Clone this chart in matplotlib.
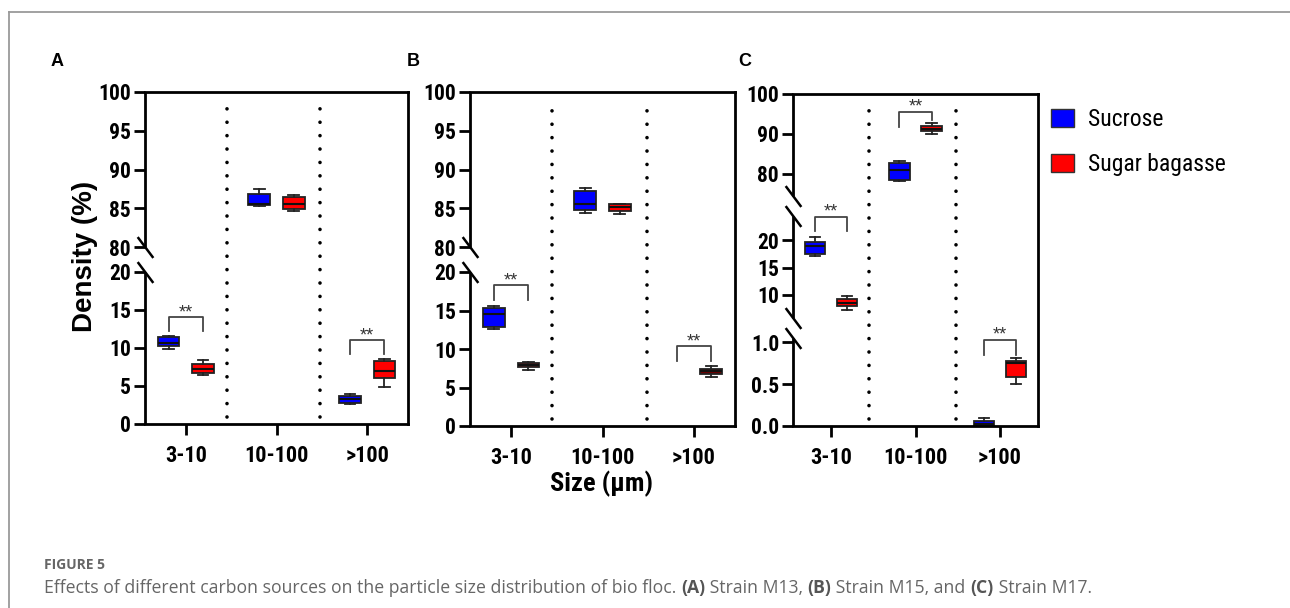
import numpy as np
import matplotlib
matplotlib.use("Agg")
import matplotlib.pyplot as plt
from matplotlib.patches import Patch
from matplotlib.lines import Line2D
from matplotlib import transforms

# ---------------- data ----------------
categories = ["3-10", "10-100", ">100"]
series = ["Sucrose", "Sugar bagasse"]
# box stats per category: (whisker low, q1, median, q3, whisker high)
A_sucrose = [(9.9, 10.3, 10.7, 11.4, 11.6), (85.35, 85.4, 85.5, 86.9, 87.5), (2.6, 2.8, 3.3, 3.65, 4.0)]
A_bagasse = [(6.4, 6.7, 7.2, 7.9, 8.4), (84.65, 84.9, 85.6, 86.4, 86.7), (4.9, 6.0, 6.95, 8.35, 8.5)]
B_sucrose = [(12.55, 12.9, 14.55, 15.35, 15.6), (84.45, 84.8, 85.55, 87.25, 87.65), None]
B_bagasse = [(7.25, 7.6, 7.9, 8.2, 8.25), (84.3, 84.7, 85.15, 85.55, 85.6), (6.4, 6.8, 7.15, 7.45, 7.75)]
C_sucrose = [(17.2, 17.55, 18.9, 19.8, 20.6), (78.15, 78.6, 81.1, 82.75, 83.25), (0.0, 0.0, 0.02, 0.055, 0.1)]
C_bagasse = [(7.25, 7.85, 8.5, 9.25, 9.8), (90.0, 90.65, 91.25, 91.9, 92.75), (0.505, 0.59, 0.75, 0.78, 0.81)]
# significance brackets: (category index, top, left leg end, right leg end)
A_brackets = [(0, 14.1, 12.3, 12.2), (2, 11.0, 9.2, 9.2)]
B_brackets = [(0, 18.3, 16.3, 16.3), (2, 10.4, 8.5, 8.5)]
C_brackets = [(0, 24.4, 21.7, 21.7), (1, 95.6, 91.75, 93.5), (2, 1.03, 0.85, 0.85)]
AB_ticks = [0, 5, 10, 15, 20, 80, 85, 90, 95, 100]
AB_ticklabels = ["0", "5", "10", "15", "20", "80", "85", "90", "95", "100"]
C_ticks = [0, 0.5, 1.0, 10, 15, 20, 80, 90, 100]
C_ticklabels = ["0.0", "0.5", "1.0", "10", "15", "20", "80", "90", "100"]
AB_segments = [(0, 20), (80, 100)]
C_segments = [(0, 1.05), (5.7, 24.5), (74.5, 100)]
caption_parts = [("Effects of different carbon sources on the particle size distribution of bio floc. ", "normal"),
                 ("(A)", "bold"), (" Strain M13, ", "normal"), ("(B)", "bold"), (" Strain M15, and ", "normal"),
                 ("(C)", "bold"), (" Strain M17.", "normal")]

# ---------------- style ----------------
W, H = 1290, 608
NARROW = ['Roboto Condensed', 'Liberation Sans', 'DejaVu Sans']
ARIAL = ['Liberation Sans', 'DejaVu Sans']
plt.rcParams['font.family'] = NARROW
plt.rcParams['font.weight'] = 'bold'
colors = ['#0000ff', '#ff0000']
fig = plt.figure(figsize=(W / 100, H / 100), dpi=100)


def make_scale(vals, pix):
    vals = np.asarray(vals, float)
    pix = np.asarray(pix, float)
    s0 = (pix[1] - pix[0]) / (vals[1] - vals[0])
    s1 = (pix[-1] - pix[-2]) / (vals[-1] - vals[-2])

    def fwd(y):
        y = np.asarray(y, float)
        out = np.interp(y, vals, pix)
        out = np.where(y < vals[0], pix[0] + (y - vals[0]) * s0, out)
        return np.where(y > vals[-1], pix[-1] + (y - vals[-1]) * s1, out)

    def inv(p):
        p = np.asarray(p, float)
        out = np.interp(p, pix, vals)
        out = np.where(p < pix[0], vals[0] + (p - pix[0]) / s0, out)
        return np.where(p > pix[-1], vals[-1] + (p - pix[-1]) / s1, out)
    return fwd, inv


def to_stats(t):
    lo, q1, med, q3, hi = t
    return dict(whislo=lo, q1=q1, med=med, q3=q3, whishi=hi, fliers=[])


panels = [
    dict(rect=(145, 92, 408, 424), vals=[0, 20, 80, 100], pix=[0, 152, 177, 332],
         ticks=AB_ticks, labels=AB_ticklabels, segs=AB_segments,
         data=[A_sucrose, A_bagasse], br=A_brackets, letter="A", lx=57, dark=False),
    dict(rect=(470, 92, 735, 426), vals=[0, 20, 80, 100], pix=[0, 154, 179, 334],
         ticks=AB_ticks, labels=AB_ticklabels, segs=AB_segments,
         data=[B_sucrose, B_bagasse], br=B_brackets, letter="B", lx=413, dark=True),
    dict(rect=(793, 94, 1038, 426), vals=[0, 1.05, 5.7, 24.5, 74.5, 100], pix=[0, 88, 108, 210, 230, 332],
         ticks=C_ticks, labels=C_ticklabels, segs=C_segments,
         data=[C_sucrose, C_bagasse], br=C_brackets, letter="C", lx=745, dark=False),
]

offsets = [-0.19, 0.19]
for p in panels:
    l, t, r, b = p['rect']
    ax = fig.add_axes([l / W, 1 - b / H, (r - l) / W, (b - t) / H])
    ax.set_yscale('function', functions=make_scale(p['vals'], p['pix']))
    ax.set_ylim(0, 100)
    ax.set_xlim(0.55, 3.45)
    ax.set_yticks(p['ticks'])
    ax.set_yticklabels(p['labels'])
    ax.set_xticks([1, 2, 3])
    ax.set_xticklabels(categories)
    ax.tick_params(axis='y', length=8, width=2, pad=2, labelsize=15.5)
    ax.tick_params(axis='x', length=8, width=2, pad=7, labelsize=16)
    ax.yaxis.set_minor_locator(matplotlib.ticker.NullLocator())
    for s in ['top', 'right', 'bottom']:
        ax.spines[s].set_linewidth(2)
    ax.spines['left'].set_visible(False)
    blend = transforms.blended_transform_factory(ax.transAxes, ax.transData)
    for lo, hi in p['segs']:
        ax.plot([0, 0], [lo, hi], transform=blend, color='k', lw=2, clip_on=False,
                solid_capstyle='butt')
    breaks = []
    for i, (lo, hi) in enumerate(p['segs']):
        if i > 0:
            breaks.append(lo)
        if i < len(p['segs']) - 1:
            breaks.append(hi)
    ax.plot([0] * len(breaks), breaks, transform=blend, ls='none', color='k',
            marker=[(-0.75, 1.0), (0.75, -1.0)], ms=15, mew=1.8, clip_on=False)
    # dotted separators
    vblend = transforms.blended_transform_factory(ax.transData, ax.transAxes)
    for xv in [1.45, 2.485]:
        ax.plot([xv, xv], [0.02, 0.975], transform=vblend, color='k', lw=2.6,
                ls=(0, (0.01, 3.7)), dash_capstyle='round')
    # boxes
    for si, sdata in enumerate(p['data']):
        stats, pos = [], []
        for ci, st in enumerate(sdata):
            if st is None:
                continue
            stats.append(to_stats(st))
            pos.append(ci + 1 + offsets[si])
        fc = colors[si]
        if p['dark'] and si == 1:
            fcs = [fc, fc, '#6a0000']
        else:
            fcs = [fc] * len(stats)
        res = ax.bxp(stats, positions=pos, widths=0.24, patch_artist=True, showfliers=False,
                     boxprops=dict(edgecolor='#222222', linewidth=1.3),
                     medianprops=dict(color='#111111', linewidth=1.5),
                     whiskerprops=dict(color='#222222', linewidth=1.3),
                     capprops=dict(color='#222222', linewidth=1.3),
                     capwidths=0.12, manage_ticks=False)
        for patch, c in zip(res['boxes'], fcs):
            patch.set_facecolor(c)
    # brackets
    for ci, ytop, yl, yr in p['br']:
        xl, xr = ci + 1 + offsets[0], ci + 1 + offsets[1]
        ax.plot([xl, xl, xr, xr], [yl, ytop, ytop, yr], color='#444444', lw=1.3, clip_on=False)
        ax.annotate('**', xy=((xl + xr) / 2, ytop), xytext=(0, -3), textcoords='offset points',
                    ha='center', va='bottom', fontsize=13, color='#333333', weight='normal',
                    family=ARIAL)
    fig.text(p['lx'] / W, 1 - 61 / H, p['letter'], ha='center', va='center', fontsize=13,
             weight='bold', family=ARIAL)

# axis titles
fig.text(85 / W, 1 - 256 / H, "Density (%)", rotation=90, ha='center', va='center',
         fontsize=20, weight='bold', family=ARIAL)
fig.text(602 / W, 1 - 484 / H, "Size (µm)", ha='center', va='center', fontsize=19, weight='bold')

# legend
fig.legend(handles=[Patch(facecolor=colors[0], edgecolor='#333333'),
                    Patch(facecolor=colors[1], edgecolor='#333333')],
           labels=series, loc='upper left', bbox_to_anchor=(1051 / W, 1 - 108 / H),
           frameon=False, prop=dict(family=NARROW, size=17, weight='normal'),
           handlelength=0.98, handleheight=0.78, handletextpad=0.6, labelspacing=0.95,
           borderaxespad=0, borderpad=0)

# figure frame
fig.add_artist(Line2D([9 / W, 9 / W], [0, 1 - 12 / H], color='#9a9a9a', lw=1.3))
fig.add_artist(Line2D([9 / W, 1], [1 - 12 / H, 1 - 12 / H], color='#9a9a9a', lw=1.3))

# caption
fig.text(44 / W, 1 - 565 / H, "FIGURE 5", family=['Open Sans', 'DejaVu Sans'], weight='bold',
         color='#666666', fontsize=10, va='center')
renderer = fig.canvas.get_renderer()
x = 44.0
for txt, wt in caption_parts:
    tt = fig.text(x / W, 1 - 588 / H, txt, family=['Open Sans', 'DejaVu Sans'], weight=wt,
                  color='#666666' if wt == 'normal' else '#555555', fontsize=12.7, va='center')
    x += tt.get_window_extent(renderer).width

fig.savefig("out.png", dpi=100)
